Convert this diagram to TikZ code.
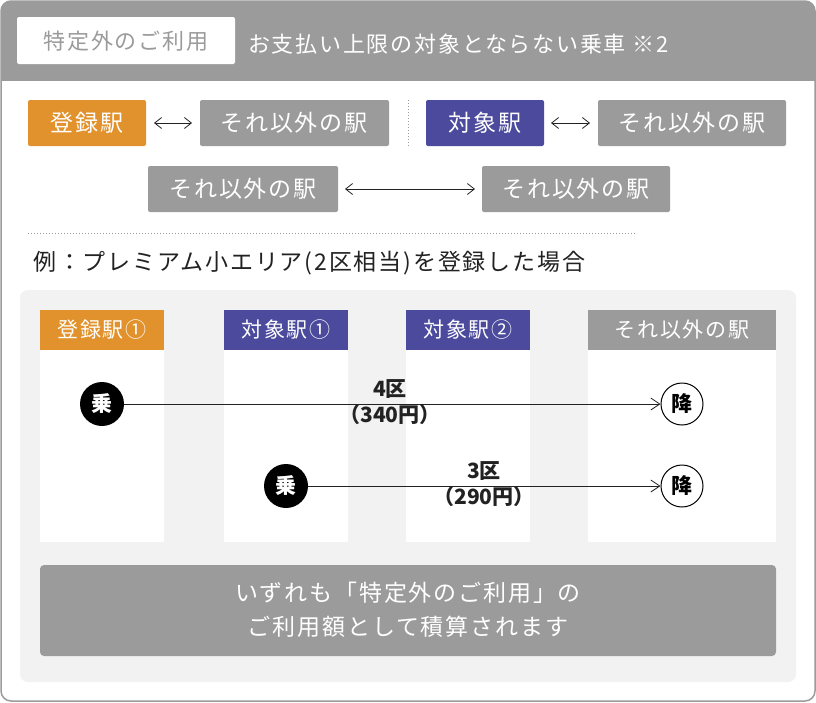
\documentclass[tikz,border=0pt]{standalone}
\usepackage{fontspec}
\setmainfont{Noto Sans CJK JP}
\newfontfamily\spc[LetterSpace=8]{Noto Sans CJK JP}
\usetikzlibrary{arrows.meta}
\definecolor{gr}{HTML}{9B9B9B}
\definecolor{org}{HTML}{E2922C}
\definecolor{blu}{HTML}{4B4A9C}
\definecolor{pan}{HTML}{F2F2F2}
\definecolor{txt}{HTML}{222222}
\begin{document}
\begin{tikzpicture}[x=1pt,y=-1pt,
  box/.style={rounded corners=2pt},
  lbl/.style={text=white,font=\spc\fontsize{23}{26}\selectfont,inner sep=0pt},
  hdr/.style={text=white,font=\spc\fontsize{21}{24}\selectfont,inner sep=0pt},
  arr/.style={{Straight Barb[length=7pt,width=11pt]}-{Straight Barb[length=7pt,width=11pt]},line width=0.8pt,txt},
  one/.style={-{Straight Barb[length=9pt,width=12pt]},line width=0.8pt,txt},
  ride/.style={circle,fill=black,text=white,minimum size=44pt,inner sep=0pt,font=\fontsize{21}{24}\selectfont\bfseries},
  off/.style={circle,draw=black,line width=1pt,fill=white,text=black,minimum size=42pt,inner sep=0pt,font=\fontsize{21}{24}\selectfont\bfseries},
  fare/.style={font=\fontsize{21}{26}\selectfont\bfseries,text=txt,align=center,inner sep=0pt}]
\useasboundingbox (0,0) rectangle (816,702);
\fill[white,rounded corners=10pt] (1,1) rectangle (815,701);
\begin{scope}
\clip[rounded corners=10pt] (1,1) rectangle (815,701);
\fill[gr] (0,0) rectangle (816,81);
\end{scope}
\draw[gr,line width=1.5pt,rounded corners=10pt] (1,1) rectangle (815,701);
\fill[white,box] (17,17) rectangle (235,64);
\node[text=gr,font=\spc\fontsize{22}{24}\selectfont] (tag) at (126,41) {特定外のご利用};
\node[anchor=west,text=white,inner sep=0pt,font=\spc\fontsize{22}{24}\selectfont] (title) at (248,44) {お支払い上限の対象とならない乗車 ※2};
% row 1
\fill[org,box] (28,100) rectangle (146,146); \node[lbl] (r1a) at (87,123) {登録駅};
\fill[gr,box] (200,100) rectangle (389,146); \node[lbl] (r1b) at (294,123) {それ以外の駅};
\draw[arr] (154,123) -- (192,123);
\draw[gr,dotted,line width=1pt] (408,100) -- (408,146);
\fill[blu,box] (426,100) rectangle (544,146); \node[lbl] (r1c) at (485,123) {対象駅};
\fill[gr,box] (598,100) rectangle (786,146); \node[lbl] (r1d) at (692,123) {それ以外の駅};
\draw[arr] (551,123) -- (590,123);
% row 2
\fill[gr,box] (148,166) rectangle (338,212); \node[lbl] (r2a) at (243,189) {それ以外の駅};
\fill[gr,box] (482,166) rectangle (670,212); \node[lbl] (r2b) at (576,189) {それ以外の駅};
\draw[arr] (345,189) -- (475,189);
\draw[gr,dotted,line width=1pt] (28,233) -- (637,233);
\node[anchor=west,text=txt,font=\spc\fontsize{23}{26}\selectfont,inner sep=0pt] (ex) at (33,263) {例：プレミアム小エリア(2区相当)を登録した場合};
% panel
\fill[pan,rounded corners=8pt] (20,290) rectangle (796,682);
\foreach \a/\b/\c/\t in {40/164/org/登録駅①,224/348/blu/対象駅①,406/530/blu/対象駅②,588/776/gr/それ以外の駅}{
  \fill[white] (\a,310) rectangle (\b,542);
  \fill[\c] (\a,310) rectangle (\b,350);
  \node[hdr] at ({(\a+\b)/2},330) {\t};
}
\node[ride] (on1) at (102,404) {乗};
\node[off] (off1) at (682,404) {降};
\draw[one] (on1) -- (off1);
\node[fare] (f1) at (390,402) {4区\\（340円）};
\node[ride] (on2) at (286,486) {乗};
\node[off] (off2) at (682,486) {降};
\draw[one] (on2) -- (off2);
\node[fare] (f2) at (484,484) {3区\\（290円）};
\fill[gr,rounded corners=4pt] (40,565) rectangle (776,656);
\node[text=white,font=\spc\fontsize{23}{34}\selectfont,align=center] (note) at (408,610) {いずれも「特定外のご利用」の\\ご利用額として積算されます};
\end{tikzpicture}
\end{document}
